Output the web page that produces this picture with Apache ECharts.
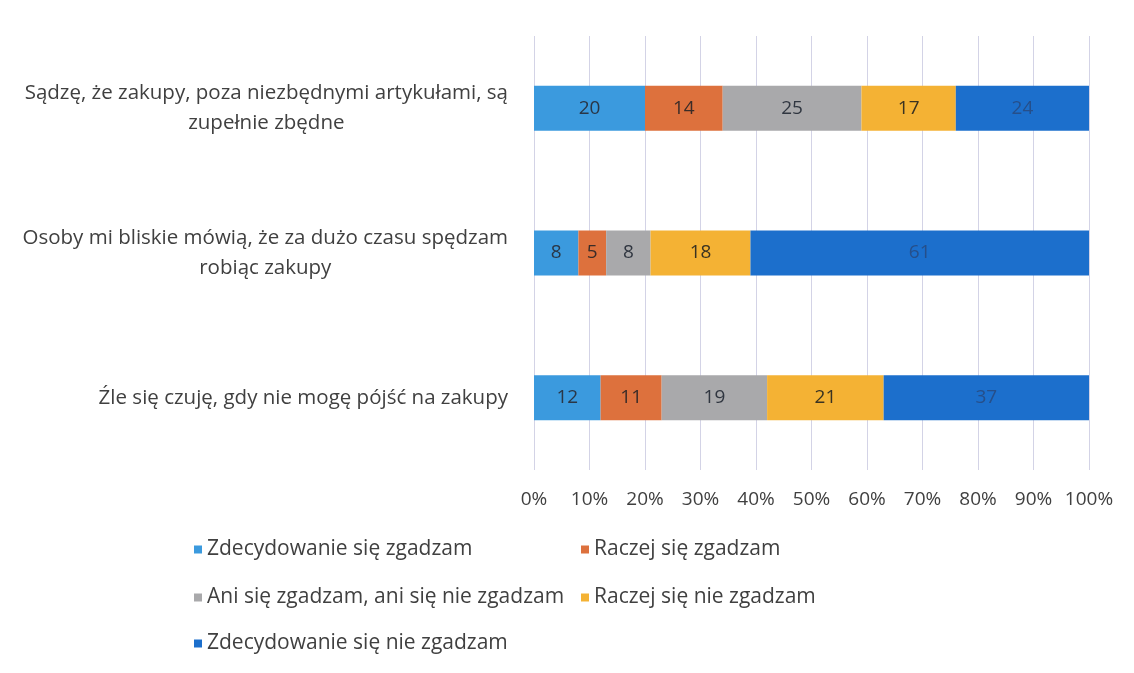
<!DOCTYPE html>
<html>
<head>
<meta charset="utf-8">
<title>Zakupy – odpowiedzi</title>
<script src="https://cdn.jsdelivr.net/npm/echarts@6/dist/echarts.min.js"></script>
<style>
  html, body { margin: 0; padding: 0; background: #ffffff; }
  #chart { width: 1134px; height: 673px; }
</style>
</head>
<body>
<div id="chart"></div>
<script>
// Statements (top to bottom) and answer options
const categories = [
  'Sądzę, że zakupy, poza niezbędnymi artykułami, są\nzupełnie zbędne',
  'Osoby mi bliskie mówią, że za dużo czasu spędzam\nrobiąc zakupy',
  'Źle się czuję, gdy nie mogę pójść na zakupy'
];
const seriesNames = [
  'Zdecydowanie się zgadzam',
  'Raczej się zgadzam',
  'Ani się zgadzam, ani się nie zgadzam',
  'Raczej się nie zgadzam',
  'Zdecydowanie się nie zgadzam'
];
// Percentage of answers for each statement
const stronglyAgree    = [20, 8, 12];
const ratherAgree      = [14, 5, 11];
const neutral          = [25, 8, 19];
const ratherDisagree   = [17, 18, 21];
const stronglyDisagree = [24, 61, 37];
const tickValues = [0, 10, 20, 30, 40, 50, 60, 70, 80, 90, 100];

const values = [stronglyAgree, ratherAgree, neutral, ratherDisagree, stronglyDisagree];
const colors = ['#3b9ade', '#dd713d', '#a9a9ab', '#f4b234', '#1c6fcc'];
const labelColors = ['#2a3646', '#3a2c28', '#303640', '#3a3322', '#264f8a'];
const font = '"Open Sans", Lato, sans-serif';
const textColor = '#404040';

const chart = echarts.init(document.getElementById('chart'));

const series = seriesNames.map((name, i) => ({
  name: name,
  type: 'bar',
  stack: 'total',
  barWidth: 45,
  itemStyle: { color: colors[i] },
  label: {
    show: true,
    position: 'inside',
    color: labelColors[i],
    fontSize: 19,
    fontFamily: font
  },
  data: values[i]
}));

// Legend laid out in two columns, one box per entry
const legendPlaces = [
  { left: 194, top: 539 },
  { left: 581, top: 539 },
  { left: 194, top: 587 },
  { left: 581, top: 587 },
  { left: 194, top: 633 }
];
const legends = seriesNames.map((name, i) => ({
  data: [name],
  left: legendPlaces[i].left,
  top: legendPlaces[i].top,
  padding: 0,
  itemWidth: 8,
  itemHeight: 8,
  icon: 'rect',
  selectedMode: false,
  textStyle: { fontSize: 21, fontFamily: font, color: textColor }
}));

chart.setOption({
  backgroundColor: '#ffffff',
  animation: false,
  grid: { left: 534, right: 45, top: 36, bottom: 203 },
  legend: legends,
  xAxis: {
    type: 'value',
    min: 0,
    max: 100,
    interval: 10,
    axisLine: { show: false },
    axisTick: { show: false },
    splitLine: { lineStyle: { color: '#d3d3e6', width: 1 } },
    axisLabel: {
      margin: 20,
      fontSize: 19,
      fontFamily: font,
      color: textColor,
      customValues: tickValues,
      formatter: '{value}%'
    }
  },
  yAxis: {
    type: 'category',
    inverse: true,
    data: categories,
    axisLine: { show: false },
    axisTick: { show: false },
    axisLabel: {
      margin: 26,
      fontSize: 20.5,
      fontFamily: font,
      color: textColor,
      lineHeight: 30,
      formatter: function (v) {
        if (v.indexOf('\n') < 0) return v;
        return v.split('\n').map(l => '{c|' + l + '}').join('\n');
      },
      rich: {
        c: { align: 'center', fontSize: 20.5, fontFamily: font, color: textColor, lineHeight: 30 }
      }
    }
  },
  series: series
});
</script>
</body>
</html>
